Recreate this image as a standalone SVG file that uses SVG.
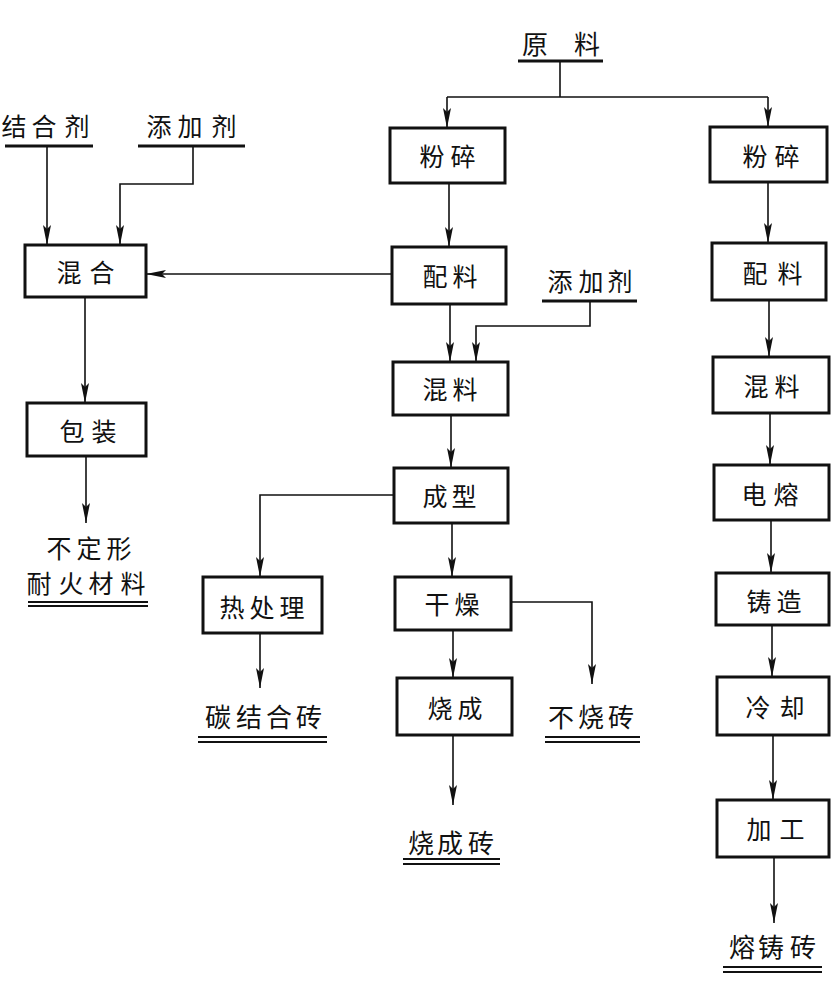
<svg xmlns="http://www.w3.org/2000/svg" width="831" height="984" viewBox="0 0 831 984">
<style>
  .box { fill: #fff; stroke: #111; stroke-width: 3; }
  .ln { fill: none; stroke: #111; stroke-width: 1.6; }
  .arr { fill: none; stroke: #111; stroke-width: 1.6; marker-end: url(#ah); }
  .ul { stroke: #111; stroke-width: 3; }
  .ul2 { stroke: #111; stroke-width: 2; }
  text { font-family: "Noto Sans CJK SC", "Noto Sans CJK TC", sans-serif; fill: #111; text-anchor: middle; dominant-baseline: central; }
  .t { font-size: 25px; }
  .p { font-size: 26px; }
</style>
<defs>
  <marker id="ah" viewBox="0 0 20 8" refX="20" refY="4" markerWidth="20" markerHeight="8" markerUnits="userSpaceOnUse" orient="auto">
    <path d="M0,0 L20,4 L0,8 L4,4 z" fill="#111"/>
  </marker>
</defs>

<g id="connectors">
  <!-- raw material split -->
  <path class="ln" d="M560,61 V97 M447,97 H768"/>
  <path class="arr" d="M447,97 V128"/>
  <path class="arr" d="M768,97 V127"/>
  <!-- middle column -->
  <path class="arr" d="M449,183 V247"/>
  <path class="arr" d="M450,304 V362"/>
  <path class="arr" d="M590,301 V326 H476 V362"/>
  <path class="arr" d="M451,415 V468"/>
  <path class="arr" d="M452,523 V577"/>
  <path class="arr" d="M453,630 V678"/>
  <path class="arr" d="M453,735 V805"/>
  <path class="arr" d="M511,602 H592 V684"/>
  <path class="arr" d="M394,495 H260 V577"/>
  <path class="arr" d="M260,633 V688"/>
  <path class="arr" d="M392,274 H146"/>
  <!-- left column -->
  <path class="arr" d="M47,146 V245"/>
  <path class="arr" d="M193,146 V184 H120 V245"/>
  <path class="arr" d="M85,297 V403"/>
  <path class="arr" d="M86,456 V523"/>
  <!-- right column -->
  <path class="arr" d="M768,182 V243"/>
  <path class="arr" d="M769,300 V357"/>
  <path class="arr" d="M770,413 V465"/>
  <path class="arr" d="M771,520 V573"/>
  <path class="arr" d="M772,625 V677"/>
  <path class="arr" d="M773,735 V800"/>
  <path class="arr" d="M774,857 V923"/>
</g>

<g id="raw">
  <text class="p" x="535 587" y="42">原料</text>
  <line class="ul" x1="518" y1="61" x2="603" y2="61"/>
</g>
<g id="binder">
  <text class="t" x="14 44 77" y="125">结合剂</text>
  <line class="ul" x1="5" y1="146" x2="93" y2="146"/>
</g>
<g id="additive-left">
  <text class="t" x="159 190 224" y="125">添加剂</text>
  <line class="ul" x1="138" y1="146" x2="245" y2="146"/>
</g>
<g id="additive-mid">
  <text class="t" x="560 591 620" y="280">添加剂</text>
  <line class="ul" x1="542" y1="301" x2="637" y2="301"/>
</g>

<g id="crush-mid"><rect class="box" x="390" y="128" width="115" height="55"/><text class="t" x="432 463" y="155">粉碎</text></g>
<g id="batch-mid"><rect class="box" x="392" y="247" width="114" height="57"/><text class="t" x="435 465" y="275">配料</text></g>
<g id="mixmat-mid"><rect class="box" x="393" y="362" width="115" height="53"/><text class="t" x="435 465" y="388">混料</text></g>
<g id="forming"><rect class="box" x="394" y="468" width="114" height="55"/><text class="t" x="435 464" y="495">成型</text></g>
<g id="drying"><rect class="box" x="395" y="577" width="116" height="53"/><text class="t" x="437 467" y="603">干燥</text></g>
<g id="firing"><rect class="box" x="397" y="678" width="115" height="57"/><text class="t" x="440 470" y="707">烧成</text></g>

<g id="crush-right"><rect class="box" x="710" y="127" width="117" height="55"/><text class="t" x="755 787" y="155">粉碎</text></g>
<g id="batch-right"><rect class="box" x="712" y="243" width="114" height="57"/><text class="t" x="755 790" y="272">配料</text></g>
<g id="mixmat-right"><rect class="box" x="713" y="357" width="116" height="56"/><text class="t" x="756 787" y="385">混料</text></g>
<g id="fusing"><rect class="box" x="714" y="465" width="115" height="55"/><text class="t" x="754 786" y="493">电熔</text></g>
<g id="casting"><rect class="box" x="716" y="573" width="113" height="52"/><text class="t" x="759 789" y="600">铸造</text></g>
<g id="cooling"><rect class="box" x="717" y="677" width="112" height="58"/><text class="t" x="758 792" y="706">冷却</text></g>
<g id="machining"><rect class="box" x="717" y="800" width="112" height="57"/><text class="t" x="759 792" y="828">加工</text></g>

<g id="mixing"><rect class="box" x="25" y="245" width="121" height="52"/><text class="t" x="69 102" y="271">混合</text></g>
<g id="packing"><rect class="box" x="27" y="403" width="119" height="53"/><text class="t" x="72 104" y="430">包装</text></g>
<g id="heat-treat"><rect class="box" x="203" y="577" width="119" height="56"/><text class="t" x="232 262 292" y="606">热处理</text></g>

<g id="monolithic">
  <text class="t" x="59 89 119" y="547">不定形</text>
  <text class="t" x="39 71 101 133" y="582">耐火材料</text>
  <line class="ul2" x1="28" y1="602" x2="148" y2="602"/>
  <line class="ul2" x1="28" y1="606" x2="148" y2="606"/>
</g>
<g id="carbon-brick">
  <text class="p" x="218 249 279 309" y="715">碳结合砖</text>
  <line class="ul2" x1="198" y1="737" x2="327" y2="737"/>
  <line class="ul2" x1="198" y1="742" x2="327" y2="742"/>
</g>
<g id="unfired-brick">
  <text class="p" x="561 591 621" y="715">不烧砖</text>
  <line class="ul2" x1="545" y1="737" x2="640" y2="737"/>
  <line class="ul2" x1="545" y1="742" x2="640" y2="742"/>
</g>
<g id="fired-brick">
  <text class="p" x="421 450 481" y="841">烧成砖</text>
  <line class="ul2" x1="403" y1="859" x2="500" y2="859"/>
  <line class="ul2" x1="403" y1="864" x2="500" y2="864"/>
</g>
<g id="fused-brick">
  <text class="p" x="742 771 803" y="945">熔铸砖</text>
  <line class="ul2" x1="723" y1="967" x2="822" y2="967"/>
  <line class="ul2" x1="723" y1="972" x2="822" y2="972"/>
</g>
</svg>
